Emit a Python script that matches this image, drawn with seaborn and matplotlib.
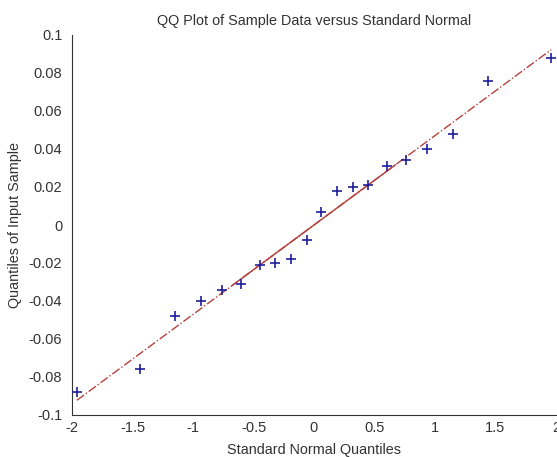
import numpy as np
import pandas as pd
import matplotlib
matplotlib.use("Agg")
import matplotlib.pyplot as plt
import seaborn as sns

# Theoretical standard normal quantiles (n = 20) and the ordered sample
normal_q = [-1.96, -1.44, -1.15, -0.93, -0.76, -0.60, -0.45, -0.32, -0.19, -0.06,
            0.06, 0.19, 0.32, 0.45, 0.60, 0.76, 0.93, 1.15, 1.44, 1.96]
sample_q = [-0.088, -0.076, -0.048, -0.040, -0.034, -0.031, -0.021, -0.020, -0.018, -0.008,
            0.007, 0.018, 0.020, 0.021, 0.031, 0.034, 0.040, 0.048, 0.076, 0.088]

x_ticks = [-2, -1.5, -1, -0.5, 0, 0.5, 1, 1.5, 2]
x_tick_labels = ["-2", "-1.5", "-1", "-0.5", "0", "0.5", "1", "1.5", "2"]
y_ticks = [-0.1, -0.08, -0.06, -0.04, -0.02, 0, 0.02, 0.04, 0.06, 0.08, 0.1]
y_tick_labels = ["-0.1", "-0.08", "-0.06", "-0.04", "-0.02", "0",
                 "0.02", "0.04", "0.06", "0.08", "0.1"]

df = pd.DataFrame({"x": normal_q, "y": sample_q})

# Reference line through the first and third quartiles
xq1, xq3 = -0.6745, 0.6745
yq1, yq3 = np.percentile(sample_q, [25, 75])
slope = (yq3 - yq1) / (xq3 - xq1)
icpt = yq1 - slope * xq1
full = pd.DataFrame({"x": [min(normal_q), max(normal_q)]})
full["y"] = icpt + slope * full["x"]
mid = pd.DataFrame({"x": [xq1, xq3], "y": [yq1, yq3]})

sns.set_style("white")
plt.rcParams["font.family"] = ["Liberation Sans", "DejaVu Sans"]

fig = plt.figure(figsize=(5.57, 4.57), dpi=100)
ax = fig.add_axes([72 / 557, 1 - 415 / 457, (556 - 72) / 557, (415 - 35) / 457])

line_col = "#b5403c"
sns.lineplot(data=full, x="x", y="y", ax=ax, color=line_col, linestyle="-.",
             linewidth=1.0, legend=False)
sns.lineplot(data=mid, x="x", y="y", ax=ax, color=line_col, linestyle="-",
             linewidth=1.0, legend=False)
sns.scatterplot(data=df, x="x", y="y", ax=ax, marker="+", s=60, color="#1f1f9c",
                linewidth=1.2, legend=False, zorder=3)

ax.set_xlim(-2, 2)
ax.set_ylim(-0.1, 0.1)
ax.set_xticks(x_ticks)
ax.set_xticklabels(x_tick_labels)
ax.set_yticks(y_ticks)
ax.set_yticklabels(y_tick_labels)
ax.tick_params(direction="in", length=5, width=0.8, labelsize=10.5, colors="#333333")
ax.tick_params(axis="y", pad=7)
ax.tick_params(axis="x", pad=4)
for s in ["top", "right"]:
    ax.spines[s].set_visible(False)
for s in ["left", "bottom"]:
    ax.spines[s].set_color("#333333")
    ax.spines[s].set_linewidth(0.8)

ax.set_xlabel("Standard Normal Quantiles", fontsize=10.4, color="#333333", labelpad=6)
ax.set_ylabel("Quantiles of Input Sample", fontsize=10.4, color="#333333", labelpad=5)
ax.set_title("QQ Plot of Sample Data versus Standard Normal", fontsize=10.4,
             color="#333333", pad=7)

fig.savefig("out.png", dpi=100)
